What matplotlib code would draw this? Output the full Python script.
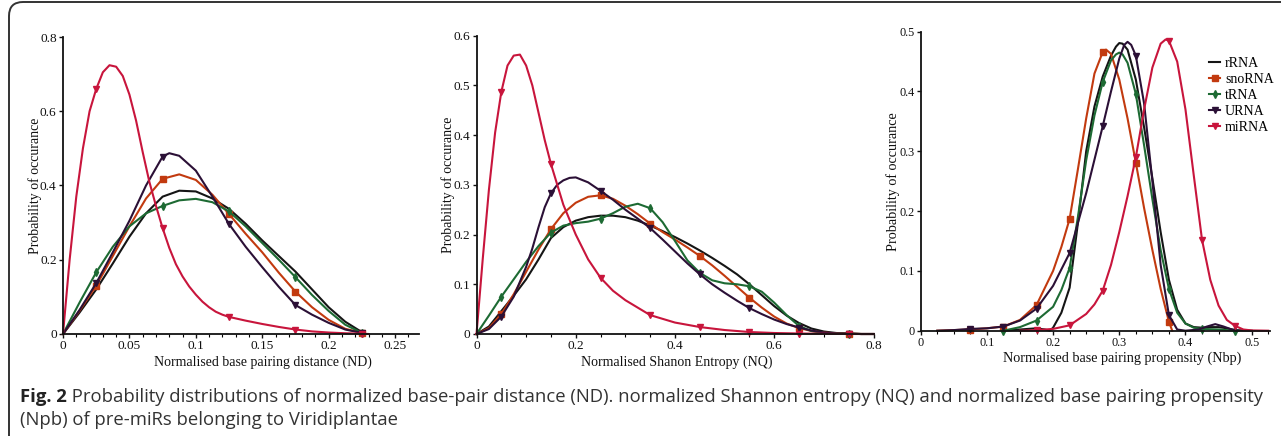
import numpy as np
import matplotlib
matplotlib.use("Agg")
import matplotlib.pyplot as plt
from matplotlib.patches import FancyBboxPatch
from matplotlib.transforms import IdentityTransform
from matplotlib.ticker import MultipleLocator, FuncFormatter

# ---------------- data ----------------
series_names = ["rRNA", "snoRNA", "tRNA", "URNA", "miRNA"]

# Panel 1: Normalised base pairing distance (ND)
nd_x = [0, 0.0125, 0.025, 0.0375, 0.05, 0.0625, 0.075, 0.0875, 0.1, 0.1125, 0.125,
        0.1375, 0.15, 0.1625, 0.175, 0.1875, 0.2, 0.2125, 0.225]
nd_rRNA = [0, 0.058, 0.12, 0.19, 0.262, 0.325, 0.37, 0.386, 0.384, 0.365, 0.337,
           0.297, 0.252, 0.21, 0.168, 0.12, 0.072, 0.033, 0.005]
nd_snoRNA = [0, 0.063, 0.13, 0.21, 0.29, 0.365, 0.418, 0.43, 0.415, 0.375, 0.323,
             0.27, 0.22, 0.165, 0.114, 0.072, 0.038, 0.014, 0.003]
nd_tRNA = [0, 0.085, 0.166, 0.235, 0.29, 0.325, 0.345, 0.36, 0.364, 0.355, 0.33,
           0.29, 0.245, 0.2, 0.153, 0.105, 0.062, 0.025, 0.003]
nd_x_U = [0, 0.0125, 0.025, 0.0375, 0.05, 0.0625, 0.075, 0.08, 0.0875, 0.1, 0.1125,
          0.125, 0.1375, 0.15, 0.1625, 0.175, 0.1875, 0.2, 0.2125, 0.225]
nd_URNA = [0, 0.065, 0.137, 0.22, 0.305, 0.4, 0.478, 0.487, 0.48, 0.44, 0.37, 0.296,
           0.235, 0.18, 0.127, 0.078, 0.052, 0.03, 0.012, 0.003]
nd_x_mi = [0, 0.005, 0.01, 0.015, 0.02, 0.025, 0.03, 0.035, 0.04, 0.045, 0.05, 0.055,
           0.06, 0.065, 0.07, 0.075, 0.08, 0.085, 0.09, 0.095, 0.1, 0.105, 0.11, 0.115,
           0.12, 0.125, 0.1375, 0.15, 0.1625, 0.175, 0.1875, 0.2, 0.2125, 0.225, 0.23]
nd_miRNA = [0, 0.2, 0.37, 0.5, 0.6, 0.66, 0.705, 0.724, 0.72, 0.695, 0.645, 0.575,
            0.49, 0.41, 0.345, 0.285, 0.232, 0.188, 0.155, 0.128, 0.106, 0.087, 0.072,
            0.06, 0.052, 0.046, 0.036, 0.027, 0.019, 0.012, 0.007, 0.004, 0.002, 0.001, 0]
nd_marks = [0.025, 0.075, 0.125, 0.175, 0.225]

# Panel 2: Normalised Shannon Entropy (NQ)
nq_x = [0, 0.025, 0.05, 0.075, 0.1, 0.125, 0.15, 0.175, 0.2, 0.225, 0.25, 0.275, 0.3,
        0.325, 0.35, 0.375, 0.4, 0.425, 0.45, 0.475, 0.5, 0.525, 0.55, 0.575, 0.6,
        0.625, 0.65, 0.675, 0.7, 0.725, 0.75, 0.775, 0.8]
nq_rRNA = [0, 0.015, 0.046, 0.077, 0.11, 0.15, 0.193, 0.215, 0.228, 0.235, 0.238,
           0.238, 0.235, 0.228, 0.218, 0.207, 0.195, 0.182, 0.168, 0.153, 0.137, 0.12,
           0.1, 0.078, 0.056, 0.037, 0.022, 0.011, 0.005, 0.002, 0.001, 0, 0]
nq_snoRNA = [0, 0.012, 0.04, 0.08, 0.125, 0.17, 0.211, 0.243, 0.264, 0.276, 0.279,
             0.272, 0.258, 0.241, 0.222, 0.205, 0.19, 0.174, 0.157, 0.138, 0.117,
             0.095, 0.073, 0.053, 0.035, 0.021, 0.012, 0.006, 0.003, 0.001, 0.001, 0, 0]
nq_tRNA = [0, 0.037, 0.075, 0.11, 0.145, 0.177, 0.204, 0.218, 0.223, 0.226, 0.232,
           0.243, 0.256, 0.262, 0.253, 0.225, 0.187, 0.148, 0.123, 0.108, 0.102, 0.1,
           0.096, 0.085, 0.063, 0.038, 0.016, 0.006, 0.002, 0.001, 0.0005, 0, 0]
nq_x_U = [0, 0.025, 0.05, 0.075, 0.1, 0.1125, 0.125, 0.1375, 0.15, 0.1625, 0.175,
          0.1875, 0.2, 0.225, 0.25, 0.275, 0.3, 0.325, 0.35, 0.375, 0.4, 0.425, 0.45,
          0.475, 0.5, 0.525, 0.55, 0.575, 0.6, 0.625, 0.65, 0.675, 0.7, 0.725, 0.75,
          0.775, 0.8]
nq_URNA = [0, 0.01, 0.035, 0.075, 0.135, 0.172, 0.215, 0.255, 0.283, 0.3, 0.309,
           0.314, 0.315, 0.305, 0.288, 0.27, 0.25, 0.232, 0.213, 0.19, 0.166, 0.142,
           0.12, 0.1, 0.083, 0.067, 0.052, 0.04, 0.029, 0.02, 0.013, 0.007, 0.003,
           0.001, 0.0005, 0, 0]
nq_x_mi = [0, 0.0125, 0.025, 0.0375, 0.05, 0.0625, 0.075, 0.0875, 0.1, 0.1125, 0.125,
           0.1375, 0.15, 0.175, 0.2, 0.225, 0.25, 0.275, 0.3, 0.35, 0.4, 0.45, 0.5, 0.55,
           0.6, 0.65, 0.7, 0.75, 0.8]
nq_miRNA = [0, 0.15, 0.29, 0.405, 0.487, 0.54, 0.56, 0.562, 0.54, 0.5, 0.445, 0.39,
            0.342, 0.26, 0.2, 0.15, 0.113, 0.087, 0.068, 0.038, 0.023, 0.014, 0.008,
            0.004, 0.002, 0.001, 0.0005, 0.0, 0]
nq_marks = [0.05, 0.15, 0.25, 0.35, 0.45, 0.55, 0.65, 0.75]

# Panel 3: Normalised base pairing propensity (Nbp)
nbp_x_rRNA = [0.125, 0.15, 0.175, 0.1875, 0.195, 0.2, 0.2125, 0.225, 0.2375, 0.25,
              0.2625, 0.275, 0.2875, 0.295, 0.3, 0.305, 0.3125, 0.325, 0.3375, 0.35,
              0.3625, 0.375, 0.3875, 0.4, 0.4125, 0.425, 0.4375, 0.45, 0.4625, 0.475, 0.5]
nbp_rRNA = [0, 0.002, 0.004, 0.002, 0.0, 0.005, 0.03, 0.072, 0.18, 0.3, 0.375, 0.425,
            0.46, 0.475, 0.481, 0.48, 0.47, 0.42, 0.34, 0.255, 0.165, 0.085, 0.035,
            0.012, 0.006, 0.005, 0.006, 0.006, 0.004, 0.001, 0]
nbp_x_snoRNA = [0.025, 0.05, 0.075, 0.1, 0.125, 0.15, 0.175, 0.2, 0.2125, 0.225,
                0.2375, 0.25, 0.2625, 0.275, 0.28, 0.2875, 0.3, 0.3125, 0.325, 0.3375,
                0.35, 0.3625, 0.375, 0.38]
nbp_snoRNA = [0, 0.001, 0.002, 0.004, 0.007, 0.018, 0.043, 0.1, 0.14, 0.187, 0.27,
              0.355, 0.43, 0.466, 0.47, 0.463, 0.42, 0.355, 0.281, 0.205, 0.135, 0.07,
              0.015, 0.0]
nbp_x_tRNA = [0.125, 0.15, 0.175, 0.2, 0.2125, 0.225, 0.2375, 0.25, 0.2625, 0.275,
              0.2875, 0.295, 0.3, 0.305, 0.3125, 0.325, 0.3375, 0.35, 0.3625, 0.375,
              0.3875, 0.4, 0.4125, 0.425, 0.45, 0.475]
nbp_tRNA = [0, 0.006, 0.017, 0.04, 0.068, 0.105, 0.19, 0.285, 0.36, 0.416, 0.452,
            0.462, 0.465, 0.462, 0.448, 0.396, 0.31, 0.22, 0.135, 0.07, 0.03, 0.012,
            0.005, 0.003, 0.002, 0]
nbp_x_URNA = [0.025, 0.05, 0.075, 0.1, 0.125, 0.15, 0.175, 0.2, 0.225, 0.25, 0.275,
              0.2875, 0.3, 0.3075, 0.3125, 0.318, 0.325, 0.3375, 0.35, 0.3625, 0.375,
              0.3875, 0.4, 0.42, 0.4325, 0.445, 0.4575, 0.47, 0.48]
nbp_URNA = [0, 0.001, 0.003, 0.004, 0.007, 0.017, 0.037, 0.075, 0.13, 0.23, 0.342,
            0.4, 0.455, 0.478, 0.483, 0.478, 0.46, 0.38, 0.25, 0.11, 0.026, 0.002, 0.0,
            0.002, 0.007, 0.011, 0.007, 0.002, 0.0]
nbp_x_miRNA = [0.15, 0.175, 0.2, 0.225, 0.25, 0.2625, 0.275, 0.2875, 0.3, 0.3125,
               0.325, 0.3375, 0.35, 0.3625, 0.37, 0.375, 0.3875, 0.4, 0.4125, 0.425,
               0.4375, 0.45, 0.4625, 0.475, 0.4875, 0.5, 0.525]
nbp_miRNA = [0, 0.001, 0.003, 0.009, 0.028, 0.044, 0.067, 0.11, 0.165, 0.225, 0.29,
             0.37, 0.44, 0.48, 0.487, 0.485, 0.45, 0.37, 0.26, 0.152, 0.085, 0.042,
             0.018, 0.008, 0.002, 0.0005, 0]
nbp_marks = [0.075, 0.125, 0.175, 0.225, 0.275, 0.325, 0.375, 0.425, 0.475]

x_labels = ["Normalised base pairing distance (ND)",
            "Normalised Shanon Entropy (NQ)",
            "Normalised base pairing propensity (Nbp)"]
y_label = "Probability of occurance"
caption_bold = "Fig. 2"
caption_line1 = (" Probability distributions of normalized base-pair distance (ND). "
                 "normalized Shannon entropy (NQ) and normalized base pairing propensity")
caption_line2 = "(Npb) of pre-miRs belonging to Viridiplantae"

# ---------------- style ----------------
colors = {"rRNA": "#151515", "snoRNA": "#c23a0f", "tRNA": "#1d6a33",
          "URNA": "#2b1036", "miRNA": "#c8153c"}
markers = {"rRNA": None, "snoRNA": "s", "tRNA": "d", "URNA": "v", "miRNA": "v"}
serif = ["Liberation Serif", "DejaVu Serif"]

W, H = 1281, 436
fig = plt.figure(figsize=(W / 100, H / 100), dpi=100)


def px_axes(left, right, bottom, top):
    return fig.add_axes([left / W, 1 - bottom / H, (right - left) / W, (bottom - top) / H])


def fmt(v, pos):
    if abs(v) < 1e-12:
        return "0"
    return ("%g" % round(v, 4))


panels = [
    dict(box=(63, 419, 334, 37), xlim=(0, 0.268), ylim=(0, 0.8), xmaj=0.05, xmin=0.01,
         ymaj=0.2, marks=nd_marks, fs=9.6, lfs=10.0,
         data={"rRNA": (nd_x, nd_rRNA), "snoRNA": (nd_x, nd_snoRNA),
               "tRNA": (nd_x, nd_tRNA), "URNA": (nd_x_U, nd_URNA),
               "miRNA": (nd_x_mi, nd_miRNA)},
         xlab_x=0.562, ylab_x=-0.079),
    dict(box=(476.5, 873.5, 334, 35.7), xlim=(0, 0.8), ylim=(0, 0.6), xmaj=0.2, xmin=0.05,
         ymaj=0.1, marks=nq_marks, fs=9.6, lfs=10.0,
         data={"rRNA": (nq_x, nq_rRNA), "snoRNA": (nq_x, nq_snoRNA),
               "tRNA": (nq_x, nq_tRNA), "URNA": (nq_x_U, nq_URNA),
               "miRNA": (nq_x_mi, nq_miRNA)},
         xlab_x=0.505, ylab_x=-0.072),
    dict(box=(920.7, 1270, 330.7, 31.7), xlim=(0, 0.5277), ylim=(0, 0.5), xmaj=0.1,
         xmin=0.025, ymaj=0.1, marks=nbp_marks, fs=8.8, lfs=10.2,
         data={"rRNA": (nbp_x_rRNA, nbp_rRNA), "snoRNA": (nbp_x_snoRNA, nbp_snoRNA),
               "tRNA": (nbp_x_tRNA, nbp_tRNA), "URNA": (nbp_x_URNA, nbp_URNA),
               "miRNA": (nbp_x_miRNA, nbp_miRNA)},
         xlab_x=0.577, ylab_x=-0.08),
]

axes = []
for i, p in enumerate(panels):
    l, r, b, t = p["box"]
    ax = px_axes(l, r, b, t)
    axes.append(ax)
    for name in series_names:
        xs, ys = p["data"][name]
        xs = np.asarray(xs)
        idx = [k for k, v in enumerate(xs) if np.any(np.isclose(v, p["marks"]))]
        ax.plot(xs, ys, color=colors[name], lw=1.5, marker=markers[name],
                markersize=4.2, markevery=idx if markers[name] else None,
                label=name, solid_joinstyle="round", clip_on=False)
    ax.set_xlim(*p["xlim"])
    ax.set_ylim(*p["ylim"])
    for s in ("top", "right"):
        ax.spines[s].set_visible(False)
    for s in ("left", "bottom"):
        ax.spines[s].set_linewidth(1.3)
        ax.spines[s].set_color("#111111")
    ax.xaxis.set_major_locator(MultipleLocator(p["xmaj"]))
    ax.xaxis.set_minor_locator(MultipleLocator(p["xmin"]))
    ax.yaxis.set_major_locator(MultipleLocator(p["ymaj"]))
    ax.xaxis.set_major_formatter(FuncFormatter(fmt))
    ax.yaxis.set_major_formatter(FuncFormatter(fmt))
    ax.tick_params(which="major", direction="out", length=3, width=1, pad=1.5,
                   labelsize=p["fs"], colors="#111111")
    ax.tick_params(which="minor", direction="out", length=2, width=0.8)
    for lab in ax.get_xticklabels() + ax.get_yticklabels():
        lab.set_family(serif)
    ax.set_xlabel(x_labels[i], family=serif, fontsize=p["lfs"], color="#111111")
    ax.set_ylabel(y_label, family=serif, fontsize=p["lfs"], color="#111111")
    ax.xaxis.set_label_coords(p["xlab_x"], -28 / (b - t))
    ax.xaxis.label.set_va("center")
    ax.yaxis.set_label_coords(p["ylab_x"], 0.5)
    ax.yaxis.label.set_va("center")
    ax.patch.set_alpha(0)

leg = axes[2].legend(loc="upper left", bbox_to_anchor=(1209 / W, 1 - 57 / H),
                     bbox_transform=fig.transFigure, frameon=False,
                     prop={"family": serif, "size": 10}, handlelength=0.8,
                     handletextpad=0.35, labelspacing=0.22, borderpad=0,
                     borderaxespad=0, markerscale=0.9)

# frame around the figure (rounded top-left corner)
frame = FancyBboxPatch((9, -40), 1400, H - 2 + 40, boxstyle="round,pad=0,rounding_size=14",
                       transform=IdentityTransform(), fill=False, lw=1.4,
                       edgecolor="#333333", clip_on=False)
fig.patches.append(frame)

# caption
cap_font = ["Open Sans", "DejaVu Sans"]
cap_size = 13.3
t1 = fig.text(20 / W, 1 - 397 / H, caption_bold, family=cap_font, fontsize=cap_size,
              weight="bold", color="#222222", va="center", ha="left")
fig.canvas.draw()
bb = t1.get_window_extent()
fig.text(bb.x1 / W, 1 - 397 / H, caption_line1, family=cap_font, fontsize=cap_size,
         color="#333333", va="center", ha="left")
fig.text(20 / W, 1 - 420 / H, caption_line2, family=cap_font, fontsize=cap_size,
         color="#333333", va="center", ha="left")

fig.savefig("out.png", dpi=100)
